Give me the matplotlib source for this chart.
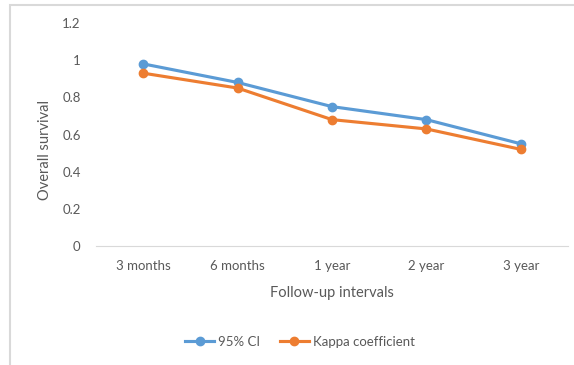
import matplotlib.pyplot as plt
from matplotlib.patches import Rectangle

# Follow-up data
intervals = ["3 months", "6 months", "1 year", "2 year", "3 year"]
ci_95 = [0.98, 0.88, 0.75, 0.68, 0.55]
kappa = [0.93, 0.85, 0.68, 0.63, 0.52]
y_ticks = [0, 0.2, 0.4, 0.6, 0.8, 1, 1.2]
y_tick_labels = ["0", "0.2", "0.4", "0.6", "0.8", "1", "1.2"]

plt.rcParams["font.family"] = ["Lato", "DejaVu Sans"]
text_color = "#595959"

fig = plt.figure(figsize=(5.74, 3.65), dpi=100)
ax = fig.add_axes([96 / 574, 1 - 246 / 365, 472 / 574, 223 / 365])

# chart frame
fig.patches.append(Rectangle((10 / 574, -0.02), 1.0, 1 - 5 / 365 + 0.02,
                             transform=fig.transFigure, fill=False,
                             edgecolor="#d9d9d9", linewidth=1.5))

x = range(len(intervals))
ax.plot(x, ci_95, color="#5b9bd5", linewidth=2.25, marker="o",
        markersize=6, label="95% CI")
ax.plot(x, kappa, color="#ed7d31", linewidth=2.25, marker="o",
        markersize=6, label="Kappa coefficient")

ax.set_xlim(-0.5, len(intervals) - 0.5)
ax.set_ylim(0, 1.2)
ax.set_xticks(list(x))
ax.set_xticklabels(intervals)
ax.set_yticks(y_ticks)
ax.set_yticklabels(y_tick_labels)

for s in ["top", "right", "left"]:
    ax.spines[s].set_visible(False)
ax.spines["bottom"].set_color("#d9d9d9")
ax.tick_params(axis="both", length=0, colors=text_color, labelsize=9.5)
ax.tick_params(axis="y", pad=11)
ax.tick_params(axis="x", pad=10)

ax.set_xlabel("Follow-up intervals", color=text_color, fontsize=10.5, labelpad=10)
fig.text(45 / 574, 1 - 150 / 365, "Overall survival", rotation=90,
         color=text_color, fontsize=10.5, ha="center", va="center")

leg = fig.legend(loc="center", bbox_to_anchor=(300 / 574, 1 - 342 / 365),
                 ncol=2, frameon=False, fontsize=9.5, handlelength=2.2,
                 columnspacing=1.5, handletextpad=0.3)
for t in leg.get_texts():
    t.set_color(text_color)

fig.savefig("out.png", dpi=100)
